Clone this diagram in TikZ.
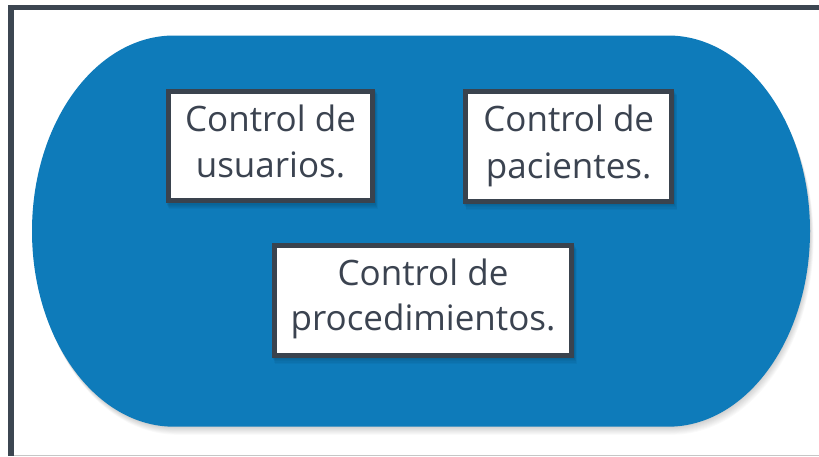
\documentclass[tikz,border=0pt]{standalone}
\usepackage{fontspec}
\setmainfont{Open Sans}
\definecolor{frameC}{HTML}{3C4651}
\definecolor{blueC}{HTML}{0E7BBA}
\definecolor{boxC}{HTML}{3A434E}
\definecolor{txtC}{HTML}{3B4350}
\tikzset{
  ctlbox/.style={draw=boxC, line width=5pt, fill=white, inner sep=0pt},
  ctltxt/.style={anchor=base, inner sep=0pt, text=txtC, font=\fontsize{35}{46}\selectfont},
}
\begin{document}
\begin{tikzpicture}[x=1pt,y=-1pt]
\useasboundingbox (0,0) rectangle (819,456);
\fill[white] (0,0) rectangle (819,456);
% frame
\fill[frameC] (8,5) rectangle (819,10);
\fill[frameC] (8,5) rectangle (14,456);
\fill[gray!45] (14,455) rectangle (819,456);
% stadium shadow
\foreach \i in {1,...,9}{
  \fill[black, opacity=0.018, shift={(0.4*\i,0.9*\i)}]
    (174,35.5) -- (668,35.5) arc[start angle=-90,end angle=90,x radius=142,y radius=195.6]
    -- (174,426.7) arc[start angle=90,end angle=270,x radius=142,y radius=195.6] -- cycle;
}
% stadium
\fill[blueC] (174,35.5) -- (668,35.5) arc[start angle=-90,end angle=90,x radius=142,y radius=195.6]
    -- (174,426.7) arc[start angle=90,end angle=270,x radius=142,y radius=195.6] -- cycle;
% box shadows
\foreach \cx/\cy/\w in {270.5/146.3/209, 568.7/146.7/211, 423/300.7/302}{
  \foreach \i in {1,...,5}{
    \fill[black, opacity=0.035] (\cx-\w/2+0.6*\i, \cy-57+\i) rectangle (\cx+\w/2+0.6*\i, \cy+57+1.2*\i);
  }
}
% boxes
\node[ctlbox, minimum width=204pt, minimum height=109pt] (usu) at (270.5,146.3) {};
\node[ctlbox, minimum width=206pt, minimum height=110pt] (pac) at (568.7,146.7) {};
\node[ctlbox, minimum width=297pt, minimum height=110pt] (pro) at (423,300.7) {};
% texts
\node[ctltxt] (usu1) at (270.5,131) {Control de};
\node[ctltxt] (usu2) at (270.5,177.7) {usuarios.};
\node[ctltxt] (pac1) at (568.7,131.5) {Control de};
\node[ctltxt] (pac2) at (568.7,178.2) {pacientes.};
\node[ctltxt] (pro1) at (423,285) {Control de};
\node[ctltxt] (pro2) at (423,330.7) {procedimientos.};
\end{tikzpicture}
\end{document}
